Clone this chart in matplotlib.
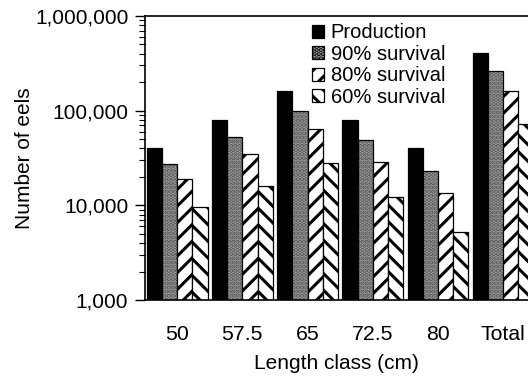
import numpy as np
import matplotlib
matplotlib.use("Agg")
import matplotlib.pyplot as plt
from matplotlib.ticker import FuncFormatter, LogLocator, NullFormatter

plt.rcParams['font.family'] = ['Liberation Sans', 'DejaVu Sans']
plt.rcParams['hatch.linewidth'] = 2.2

# data
groups = ["50", "57.5", "65", "72.5", "80", "Total"]
series = ["Production", "90% survival", "80% survival", "60% survival"]
production = [40000, 80000, 162000, 80000, 40000, 410000]
surv90 = [27500, 53000, 100000, 49000, 23000, 260000]
surv80 = [19000, 35000, 64000, 29000, 13500, 162000]
surv60 = [9500, 16000, 27800, 12200, 5200, 72000]

values = [production, surv90, surv80, surv60]
faces = ["black", "#a0a0a0", "white", "white"]
hatches = [None, "....", "//", "\\\\"]
hatch_cols = ["black", "#555555", "black", "black"]

fig = plt.figure(figsize=(5.28, 3.77), dpi=100)
ax = fig.add_axes([145/528, 77/377, 383/528, 284/377])

x = np.arange(len(groups))
w = 0.233
for i, (vals, name) in enumerate(zip(values, series)):
  pos = x - 1.5*w + i*w
  # texture layer first, then outline on top
  ax.bar(pos, vals, w, bottom=1, color=faces[i], hatch=hatches[i],
         edgecolor=hatch_cols[i], linewidth=0)
  ax.bar(pos, vals, w, bottom=1, facecolor="none", edgecolor="black",
         linewidth=0.9)
  # legend proxy
  ax.bar([np.nan], [np.nan], color=faces[i], hatch=hatches[i],
         edgecolor="black", linewidth=0.9, label=name)

ax.set_yscale("log")
ax.set_ylim(1000, 1000000)
ax.set_xlim(-0.493, 5.381)
ax.yaxis.set_major_locator(LogLocator(base=10))
ax.yaxis.set_minor_locator(LogLocator(base=10, subs=np.arange(2, 10)))
ax.yaxis.set_minor_formatter(NullFormatter())
ax.yaxis.set_major_formatter(FuncFormatter(lambda v, p: f"{int(round(v)):,}"))
ax.set_xticks(x)
ax.set_xticklabels(groups)

ax.tick_params(axis="y", which="major", direction="out", length=7, width=1,
               labelsize=15, pad=5)
ax.tick_params(axis="y", which="minor", direction="out", length=4, width=0.8)
ax.tick_params(axis="x", length=0, labelsize=15.3, pad=18)
ax.spines["right"].set_visible(False)
for s in ["left", "top", "bottom"]:
  ax.spines[s].set_linewidth(1.2)

ax.set_xlabel("Length class (cm)", fontsize=15, labelpad=7.5)
ax.set_ylabel("Number of eels", fontsize=15, labelpad=1)

ax.legend(loc="upper left", bbox_to_anchor=(0.416, 1.002), frameon=False,
          fontsize=14.5, handlelength=0.6, handleheight=0.6,
          handletextpad=0.3, labelspacing=0.12, borderaxespad=0)

fig.savefig("out.png", dpi=100)
